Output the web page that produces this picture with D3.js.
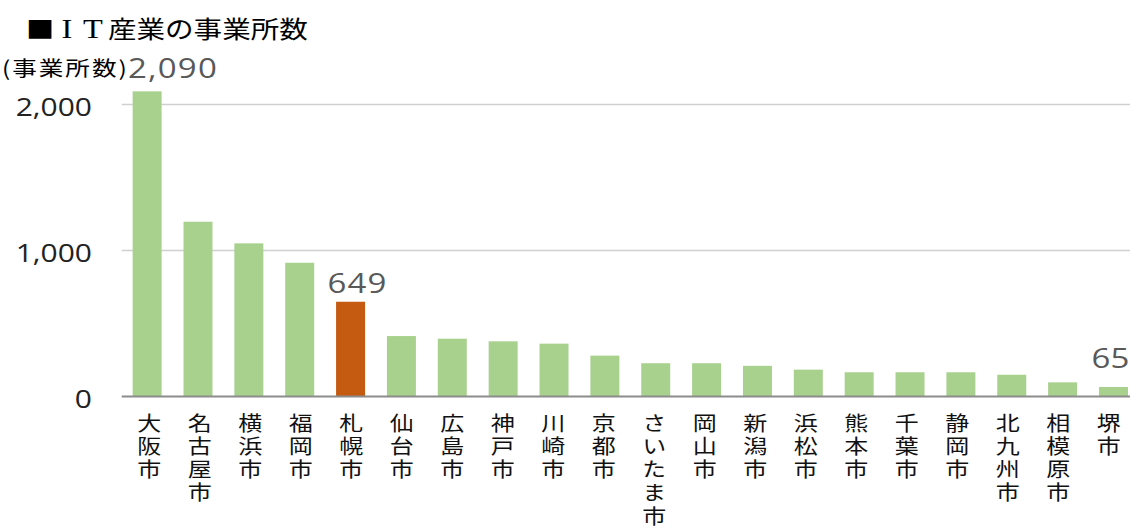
<!DOCTYPE html>
<html><head><meta charset="utf-8">
<script src="https://cdn.jsdelivr.net/npm/d3@7"></script>
<style>
html,body{margin:0;padding:0;background:#fff;}
svg{display:block;}
</style></head>
<body>
<svg id="chart" width="1130" height="528"></svg>
<script>
const titleMark = "■";
const titleLetters = ["I","T"];
const titleRest = "産業の事業所数";
const yAxisTitle = "(事業所数)";
const cities = ["大阪市","名古屋市","横浜市","福岡市","札幌市","仙台市","広島市","神戸市","川崎市","京都市","さいたま市","岡山市","新潟市","浜松市","熊本市","千葉市","静岡市","北九州市","相模原市","堺市"];
const values = [2090,1197,1049,916,649,414,396,378,362,280,228,228,210,184,166,166,166,149,97,65];
const highlight = ["札幌市"];
const labeled = ["大阪市","札幌市","堺市"];
const yTicks = [0,1000,2000];

const svg = d3.select("#chart");
const W = 1130;
const SX = 1.2; // horizontal stretch of the reference's text
const x = d3.scaleBand().domain(cities).range([121.7, 121.7 + 20*50.86]).paddingInner(0.43).paddingOuter(0.215);
const xl = d3.scaleBand().domain(cities).range([124, 124 + 20*50.5]);
const y = d3.scaleLinear().domain([0,2000]).range([396.5,104.5]);
const fmt = d3.format(",");
const cjk = "'Noto Sans CJK JP','Noto Sans',sans-serif";
const num = "'Open Sans','Noto Sans',sans-serif";
const serif = "'Liberation Serif','DejaVu Serif',serif";

function stext(parent, px, py, str, o){
  const g = parent.append("g").attr("transform",`translate(${px},${py}) scale(${SX},1)`);
  const t = g.append("text").attr("x",0).attr("y",0)
    .attr("font-family",o.font).attr("font-size",o.size).attr("fill",o.fill||"#000")
    .attr("text-anchor",o.anchor||"start").text(str);
  if(o.ls) t.attr("letter-spacing",o.ls);
  if(o.len) t.attr("textLength",o.len).attr("lengthAdjust","spacing");
  return t;
}

// title
stext(svg, 26, 37.5, titleMark, {font:cjk,size:23.5});
stext(svg, 67, 38, titleLetters[0], {font:serif,size:27,anchor:"middle"});
stext(svg, 93, 38, titleLetters[1], {font:serif,size:27,anchor:"middle"});
stext(svg, 108, 37.5, titleRest, {font:cjk,size:23.8});
stext(svg, 2, 76, yAxisTitle, {font:cjk,size:20.5,len:104});

// gridlines
svg.append("g").selectAll("line").data(yTicks.filter(d=>d>0)).join("line")
  .attr("x1",121.7).attr("x2",W).attr("y1",d=>y(d)).attr("y2",d=>y(d))
  .attr("stroke","#d0d0d0").attr("stroke-width",1.3);

// y axis
const yAxis = svg.append("g").attr("transform","translate(92,0)")
  .call(d3.axisLeft(y).tickValues(yTicks).tickSize(0).tickPadding(0).tickFormat(fmt));
yAxis.select(".domain").remove();
yAxis.selectAll("text").attr("font-family",num).attr("font-size",25).attr("fill","#222")
  .attr("x",0).attr("dy","0.43em").attr("transform",`scale(${SX},1)`);

// bars
svg.append("g").selectAll("rect").data(cities).join("rect")
  .attr("x",d=>x(d)).attr("width",x.bandwidth())
  .attr("y",(d,i)=>y(values[i])).attr("height",(d,i)=>y(0)-y(values[i]))
  .attr("fill",d=>highlight.includes(d)?"#c55a11":"#a9d18e");

// baseline
svg.append("line").attr("x1",121.7).attr("x2",W).attr("y1",y(0)).attr("y2",y(0))
  .attr("stroke","#8c8c8c").attr("stroke-width",2);

// value labels
labeled.forEach(c=>{
  const i = cities.indexOf(c);
  const cx = x(c)+x.bandwidth()/2;
  if(i===0){
    stext(svg, 128, 78, fmt(values[i]), {font:num,size:27.5,fill:"#595959",ls:1});
  } else if(i===4){
    stext(svg, cx+7, y(values[i])-8.5, fmt(values[i]), {font:num,size:27.5,fill:"#595959",anchor:"middle",ls:1});
  } else {
    stext(svg, cx-3, y(values[i])-19, fmt(values[i]), {font:num,size:27.5,fill:"#595959",anchor:"middle"});
  }
});

// category labels: one upright character per row, stacked downward
const cat = svg.append("g");
cities.forEach(c=>{
  const cx = xl(c)+xl.bandwidth()/2;
  Array.from(c).forEach((ch,k)=>{
    cat.append("g").attr("transform",`translate(${cx},${413 + k*23.3}) scale(${SX},1)`)
      .append("text").attr("x",0).attr("y",0)
      .attr("writing-mode","vertical-rl").style("writing-mode","vertical-rl")
      .attr("font-family",cjk).attr("font-size",20)
      .attr("fill","#111").text(ch);
  });
});
</script>
</body></html>
